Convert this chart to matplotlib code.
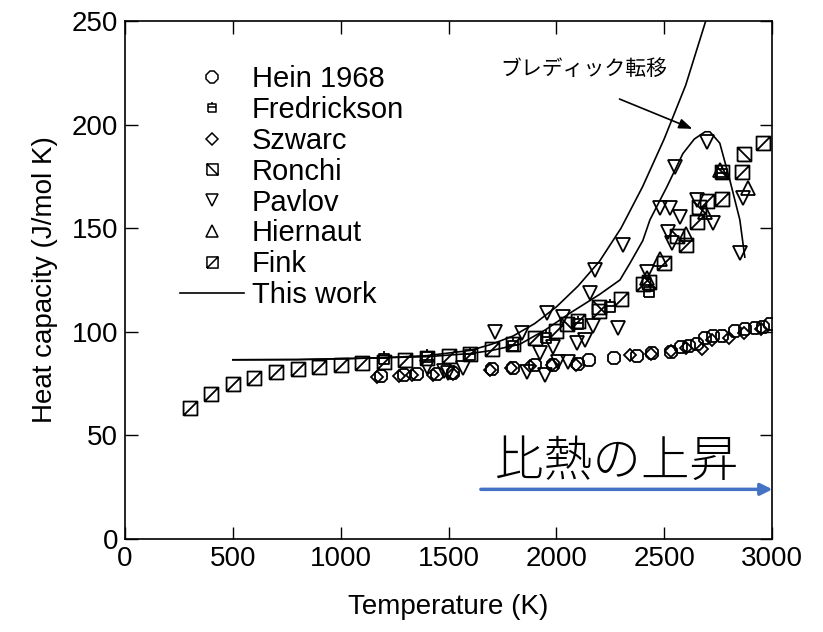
import numpy as np
import matplotlib
matplotlib.use("Agg")
from matplotlib import pyplot as plt
from matplotlib.path import Path
from matplotlib.lines import Line2D

plt.rcParams['font.family'] = ['Liberation Sans', 'DejaVu Sans']

# Hein 1968
hein_t = [1188, 1295, 1355, 1448, 1520, 1700, 1800, 1900, 1985, 2100, 2151, 2268, 2374, 2442,
          2532, 2580, 2613, 2650, 2690, 2726, 2768, 2828, 2874, 2921, 2960, 2990]
hein_cp = [78.6, 79, 79.6, 79.6, 80, 82, 82.5, 84, 84, 84.5, 86.5, 87.5, 88.3, 89.8,
           90.3, 92.5, 93, 94, 97, 98, 98, 100.5, 101.5, 101.8, 102.5, 104]

# Fredrickson
fred_t = [1200, 1400, 1600, 1800, 1950, 2100, 2250, 2430, 2770]
fred_cp = [87, 88, 89, 93, 97, 104, 112, 119, 176]

# Szwarc
szw_t = [1170, 1270, 1330, 1430, 1520, 1690, 1790, 1880, 1980, 2090, 2340, 2440, 2530,
         2600, 2675, 2720, 2800, 2870, 2950]
szw_cp = [78, 78.5, 79, 79, 79.5, 81.5, 82.5, 83.5, 83.8, 84, 89, 89.5, 90.5,
          92, 91.5, 96, 97, 99.5, 101.5]

# Ronchi
ron_t = [2050, 2200, 2430, 2560, 2660, 2770, 2870]
ron_cp = [104, 112, 124, 146, 160, 177, 186]

# Pavlov
pav_t = [1400, 1480, 1497, 1567, 1715, 1840, 1864, 1924, 1947, 1956, 1984, 2007, 2030, 2054,
         2095, 2133, 2170, 2179, 2156, 2285, 2309, 2420, 2480, 2527, 2517, 2536, 2573,
         2550, 2652, 2698, 2726, 2865, 2851]
pav_cp = [83, 81, 80, 82.5, 99.8, 99.4, 80.6, 90, 79, 109, 92.7, 85.4, 107, 85.4,
          94.6, 96, 103, 129.8, 118.7, 102, 141.9, 128.9, 159.7, 159.7, 148, 143, 155.4,
          179.5, 163.6, 191.6, 152.5, 164.6, 138]

# Hiernaut
hie_t = [2420, 2480, 2600, 2690, 2760, 2888]
hie_cp = [126, 135, 147, 158, 178, 169.4]

# Fink
fink_t = [300, 400, 500, 600, 700, 800, 900, 1000, 1100, 1200, 1300, 1400, 1500, 1600,
          1700, 1800, 1900, 2000, 2100, 2200, 2300, 2400, 2500, 2600, 2650, 2700, 2770,
          2860, 2960]
fink_cp = [63, 70, 75, 77.5, 80.5, 82, 83, 84, 85, 85.5, 86.5, 87.5, 88.5, 89.5,
           91.5, 94, 97, 100.5, 105, 110, 116, 123, 133, 142, 153, 163, 164,
           177, 191]

# This work, two curves
work1_t = [500, 800, 1000, 1200, 1400, 1600, 1700, 1800, 1900, 2000, 2100, 2200, 2300,
           2400, 2500, 2600, 2693]
work1_cp = [86.5, 86.6, 87, 87.5, 88.5, 91, 94, 98, 104, 112, 122, 134, 150,
            170, 193, 219, 250]
work2_t = [500, 800, 1000, 1200, 1400, 1600, 1700, 1831, 1950, 2063, 2200, 2295, 2341,
           2401, 2434, 2513, 2587, 2640, 2690, 2712, 2758, 2805, 2851, 2874]
work2_cp = [86.5, 86.6, 87, 87.5, 88, 89.5, 91, 94, 101, 109, 118, 125, 133,
            144, 154, 170, 186, 193, 196.5, 196.5, 191, 173, 154, 136]


def box_marker(extra):
    verts = [(-1, -1), (1, -1), (1, 1), (-1, 1), (-1, -1)]
    codes = [Path.MOVETO] + [Path.LINETO] * 4
    for a, b in extra:
        verts += [a, b]
        codes += [Path.MOVETO, Path.LINETO]
    return Path(verts, codes)


fink_m = box_marker([((-1, -1), (1, 1))])
ron_m = box_marker([((-1, 1), (1, -1))])
fred_m = box_marker([((0, 1), (0, 1.4)), ((-1, 0.2), (1, 0.2))])

fig = plt.figure(figsize=(8.23, 6.32), dpi=100)
ax = fig.add_axes([0.152, 0.147, 0.786, 0.820])

kw = dict(linestyle='none', markerfacecolor='none', markeredgecolor='black', markeredgewidth=1.3)
ax.plot(hein_t, hein_cp, marker='8', markersize=10, **kw)
ax.plot(szw_t, szw_cp, marker='D', markersize=6, **kw)
ax.plot(fred_t, fred_cp, marker=fred_m, markersize=11, **kw)
ax.plot(ron_t, ron_cp, marker=ron_m, markersize=10, **kw)
ax.plot(pav_t, pav_cp, marker='v', markersize=10, **kw)
ax.plot(hie_t, hie_cp, marker='^', markersize=10, **kw)
ax.plot(fink_t, fink_cp, marker=fink_m, markersize=10, **kw)
ax.plot(work1_t, work1_cp, color='black', lw=1.2)
ax.plot(work2_t, work2_cp, color='black', lw=1.2)

ax.set_xlim(0, 3000)
ax.set_ylim(0, 250)
ax.set_xticks(np.arange(0, 3001, 500))
ax.set_yticks(np.arange(0, 251, 50))
ax.tick_params(direction='in', length=9, width=1, top=True, right=True,
               labelsize=20, pad=5)
for s in ax.spines.values():
    s.set_linewidth(1.2)
ax.set_xlabel('Temperature (K)', fontsize=20, labelpad=16)
ax.set_ylabel('Heat capacity (J/mol K)', fontsize=20, labelpad=10)

lkw = dict(linestyle='none', markerfacecolor='none', markeredgecolor='black', markeredgewidth=1.1)
handles = [
    Line2D([], [], marker='8', markersize=9, **lkw),
    Line2D([], [], marker=fred_m, markersize=9, **lkw),
    Line2D([], [], marker='D', markersize=6, **lkw),
    Line2D([], [], marker=ron_m, markersize=8, **lkw),
    Line2D([], [], marker='v', markersize=9, **lkw),
    Line2D([], [], marker='^', markersize=9, **lkw),
    Line2D([], [], marker=fink_m, markersize=8, **lkw),
    Line2D([], [], color='black', lw=1.2),
]
labels = ['Hein 1968', 'Fredrickson', 'Szwarc', 'Ronchi', 'Pavlov', 'Hiernaut', 'Fink', 'This work']
ax.legend(handles, labels, loc='upper left', bbox_to_anchor=(0.085, 0.915), frameon=False,
          fontsize=21, handlelength=2.2, handletextpad=0.25, labelspacing=0.1,
          borderpad=0, borderaxespad=0)

ax.text(2128, 227, 'ブレディック転移', fontsize=15, ha='center', va='center',
        family=['Noto Sans CJK JP', 'DejaVu Sans'])
ax.annotate('', xy=(2643, 197.4), xytext=(2281, 212.8),
            arrowprops=dict(arrowstyle='-|>,head_length=0.8,head_width=0.3', color='black', lw=1.2))

ax.text(2281, 37, '比熱の上昇', fontsize=35, ha='center', va='center',
        family=['Noto Sans CJK JP', 'DejaVu Sans'], fontweight='light')
ax.annotate('', xy=(3015, 24), xytext=(1637, 24), annotation_clip=False,
            arrowprops=dict(arrowstyle='-|>,head_length=0.7,head_width=0.35', color='#4472C4', lw=2.5))

fig.savefig('out.png', dpi=100)
